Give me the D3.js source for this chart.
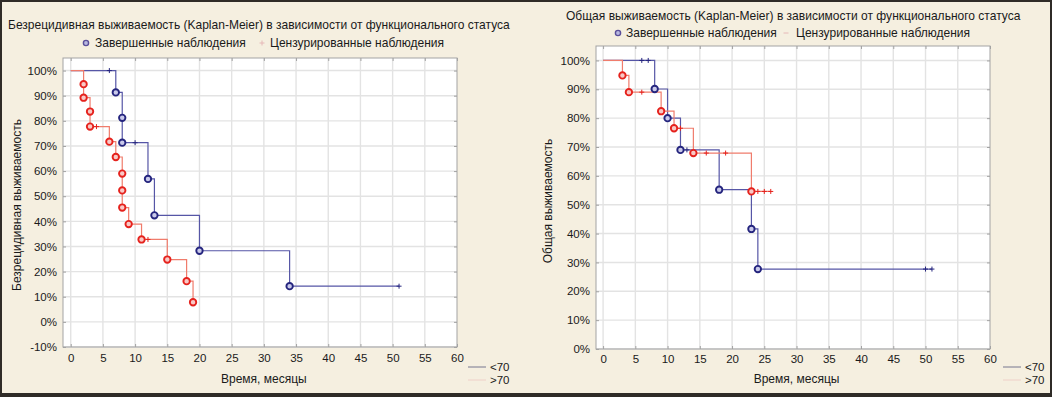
<!DOCTYPE html>
<html><head><meta charset="utf-8">
<script src="https://cdn.jsdelivr.net/npm/d3@7"></script>
<style>
body{margin:0;background:#fff}
text{font-family:"Liberation Sans",Arial,sans-serif;fill:#1a1a1a}
</style>
</head><body><svg id="c" width="1052" height="397"></svg>
<script>
// ---------- data ----------
const xTicks = [0,5,10,15,20,25,30,35,40,45,50,55,60];
const rfsYTicks = [-10,0,10,20,30,40,50,60,70,80,90,100];
const osYTicks = [0,10,20,30,40,50,60,70,80,90,100];
const groupLabels = ["<70", ">70"];
const legendLabels = ["Завершенные наблюдения", "Цензурированные наблюдения"];
const titles = ["Безрецидивная выживаемость (Kaplan-Meier) в зависимости от функционального статуса",
                "Общая выживаемость (Kaplan-Meier) в зависимости от функционального статуса"];
const yTitles = ["Безрецидивная выживаемость", "Общая выживаемость"];
const xTitle = "Время, месяцы";
// [time (months), survival %, 'e' = completed / 'c' = censored]
const rfsLt70 = [[6,100,'c'],[7,91.3,'e'],[8,81.2,'e'],[8,71.3,'e'],[10,71.3,'c'],[12,56.9,'e'],
                 [13,42.4,'e'],[20,28.3,'e'],[34,14.2,'e'],[51,14.2,'c']];
const rfsGt70 = [[2,94.6,'e'],[2,89.2,'e'],[3,83.7,'e'],[3,77.7,'e'],[4,77.7,'c'],[6,71.7,'e'],
                 [7,65.6,'e'],[8,59.0,'e'],[8,52.3,'e'],[8,45.5,'e'],[9,38.9,'e'],[11,32.8,'e'],
                 [12,32.8,'c'],[15,24.8,'e'],[18,16.2,'e'],[19,7.8,'e']];
const osLt70 = [[6,100,'c'],[7,100,'c'],[8,90.1,'e'],[10,80.0,'e'],[12,69.0,'e'],[13,69.0,'c'],
                [18,55.2,'e'],[23,41.6,'e'],[24,27.7,'e'],[50,27.7,'c'],[51,27.7,'c']];
const osGt70 = [[3,94.8,'e'],[4,89.0,'e'],[6,89.0,'c'],[9,82.4,'e'],[11,76.5,'e'],[12,76.5,'c'],
                [14,67.9,'e'],[16,67.9,'c'],[19,67.9,'c'],[23,54.6,'e'],[24,54.6,'c'],[25,54.6,'c'],[26,54.6,'c']];

// ---------- styles ----------
const FONT = 11.5;
const col = {
  blueLine:"#5656a6", blueMark:"#25257e", blueFill:"#c9c9ea",
  redLine:"#f07c6c", redMark:"#e5221d", redFill:"#f9c9c6",
  grid:"#e3e3e3", frame:"#a3a3a3", bg:"#f5efe0", border:"#2f2b27"
};

const svg = d3.select("#c");
svg.append("rect").attr("width",1052).attr("height",397).attr("fill",col.border);
svg.append("rect").attr("x",2).attr("y",2).attr("width",1048).attr("height",391).attr("fill",col.bg);

// font size that makes a text reach a given width
function fitSize(str, w){
  const t = svg.append("text").attr("font-size",12).text(str);
  const cur = t.node().getComputedTextLength();
  t.remove();
  return cur > 0 ? 12*w/cur : 12;
}
const TITLE_FS = fitSize(titles[0], 502);
const LEG_FS = fitSize(legendLabels[0], 151);

function drawChart(cfg){
  const g = svg.append("g");
  const x = d3.scaleLinear().domain(cfg.xDomain).range([cfg.left,cfg.right]);
  const y = d3.scaleLinear().domain(cfg.yDomain).range([cfg.bottom,cfg.top]);
  g.append("rect").attr("x",cfg.left).attr("y",cfg.top)
    .attr("width",cfg.right-cfg.left).attr("height",cfg.bottom-cfg.top).attr("fill","#fff");
  // grid
  g.append("g").selectAll("line").data(xTicks.filter(d=>d<60)).join("line")
    .attr("x1",d=>x(d)).attr("x2",d=>x(d)).attr("y1",cfg.top).attr("y2",cfg.bottom)
    .attr("stroke",col.grid).attr("stroke-width",1.4);
  g.append("g").selectAll("line").data(cfg.yTicks).join("line")
    .attr("y1",d=>y(d)).attr("y2",d=>y(d)).attr("x1",cfg.left).attr("x2",cfg.right)
    .attr("stroke",col.grid).attr("stroke-width",1.4);
  // axes
  const styleAxis = sel => { sel.select(".domain").remove();
    sel.selectAll(".tick line").attr("stroke",col.frame);
    sel.selectAll("text").attr("font-size",FONT).attr("font-family","Liberation Sans, Arial, sans-serif").attr("fill","#1a1a1a"); };
  g.append("g").attr("transform",`translate(0,${cfg.bottom})`)
    .call(d3.axisBottom(x).tickValues(xTicks).tickSize(-3).tickPadding(cfg.xPad)).call(styleAxis);
  g.append("g").attr("transform",`translate(0,${cfg.top})`)
    .call(d3.axisTop(x).tickValues(xTicks).tickSize(-3).tickFormat("")).call(styleAxis);
  g.append("g").attr("transform",`translate(${cfg.left},0)`)
    .call(d3.axisLeft(y).tickValues(cfg.yTicks).tickSize(-3).tickPadding(6).tickFormat(d=>d+"%")).call(styleAxis);
  g.append("g").attr("transform",`translate(${cfg.right},0)`)
    .call(d3.axisRight(y).tickValues(cfg.yTicks).tickSize(-3).tickFormat("")).call(styleAxis);
  // frame
  g.append("rect").attr("x",cfg.left).attr("y",cfg.top)
    .attr("width",cfg.right-cfg.left).attr("height",cfg.bottom-cfg.top)
    .attr("fill","none").attr("stroke",col.frame);
  // series
  const line = d3.line().x(d=>x(d[0])).y(d=>y(d[1])).curve(d3.curveStepAfter);
  cfg.series.forEach(s=>{
    const pts = [[0,100], ...s.data.map(d=>[d[0],d[1]])];
    g.append("path").attr("d",line(pts)).attr("fill","none")
      .attr("stroke",s.line).attr("stroke-width",1.2);
  });
  cfg.series.forEach(s=>{
    const cens = s.data.filter(d=>d[2]==='c');
    g.append("g").selectAll("path").data(cens).join("path")
      .attr("d",d=>`M${x(d[0])-2.5},${y(d[1])}h5M${x(d[0])},${y(d[1])-2.5}v5`)
      .attr("stroke",s.mark).attr("stroke-width",1);
    const ev = s.data.filter(d=>d[2]==='e');
    g.append("g").selectAll("circle").data(ev).join("circle")
      .attr("cx",d=>x(d[0])).attr("cy",d=>y(d[1])).attr("r",3.2)
      .attr("fill",s.fill).attr("stroke",s.mark).attr("stroke-width",1.9);
  });
  // titles
  g.append("text").attr("x",cfg.titleX).attr("y",cfg.titleY).attr("font-size",TITLE_FS).text(cfg.title);
  // top legend
  g.append("circle").attr("cx",cfg.legX1).attr("cy",cfg.legY-4).attr("r",2.6)
    .attr("fill","#b8b8e0").attr("stroke","#5a4f9a").attr("stroke-width",1.4);
  g.append("text").attr("x",cfg.legT1).attr("y",cfg.legY).attr("font-size",LEG_FS).text(legendLabels[0]);
  g.append("path").attr("d",cfg.censLegendPlus
      ? `M${cfg.legX2-2.5},${cfg.legY-4}h5M${cfg.legX2},${cfg.legY-6.5}v5`
      : `M${cfg.legX2-2.5},${cfg.legY-4}h5`)
    .attr("stroke","#e6b8b8").attr("stroke-width",1);
  g.append("text").attr("x",cfg.legT2).attr("y",cfg.legY).attr("font-size",LEG_FS).text(legendLabels[1]);
  // axis titles
  g.append("text").attr("x",(x(0)+x(60))/2).attr("y",383).attr("text-anchor","middle")
    .attr("font-size",12).text(xTitle);
  g.append("text").attr("transform",`translate(${cfg.yTitleX},${cfg.yTitleY}) rotate(-90)`)
    .attr("text-anchor","middle").attr("font-size",12).text(cfg.yTitle);
  // group legend
  [["#77778f",groupLabels[0],367],["#efd0c8",groupLabels[1],380]].forEach(([c,t,yy])=>{
    g.append("line").attr("x1",cfg.gLegX).attr("x2",cfg.gLegX+18).attr("y1",yy).attr("y2",yy)
      .attr("stroke",c).attr("stroke-width",1);
    g.append("text").attr("x",cfg.gLegX+22).attr("y",yy+4).attr("font-size",FONT).text(t);
  });
}

drawChart({left:63,right:457,top:58,bottom:347,xDomain:[-1.2,60],yDomain:[-10,105],
  yTicks:rfsYTicks,xPad:7,title:titles[0],titleX:8,titleY:29,
  yTitle:yTitles[0],yTitleX:21,yTitleY:205,
  legX1:86,legT1:95,legX2:262,legT2:270,legY:47,censLegendPlus:true,gLegX:468,
  series:[{data:rfsLt70,line:col.blueLine,mark:col.blueMark,fill:col.blueFill},
          {data:rfsGt70,line:col.redLine,mark:col.redMark,fill:col.redFill}]});
drawChart({left:596,right:990,top:46,bottom:349,xDomain:[-1.1,60],yDomain:[0,105],
  yTicks:osYTicks,xPad:6,title:titles[1],titleX:566,titleY:20,
  yTitle:yTitles[1],yTitleX:552,yTitleY:201,
  legX1:618,legT1:626,legX2:786,legT2:796,legY:37,censLegendPlus:false,gLegX:1003,
  series:[{data:osLt70,line:col.blueLine,mark:col.blueMark,fill:col.blueFill},
          {data:osGt70,line:col.redLine,mark:col.redMark,fill:col.redFill}]});
</script>
</body></html>
